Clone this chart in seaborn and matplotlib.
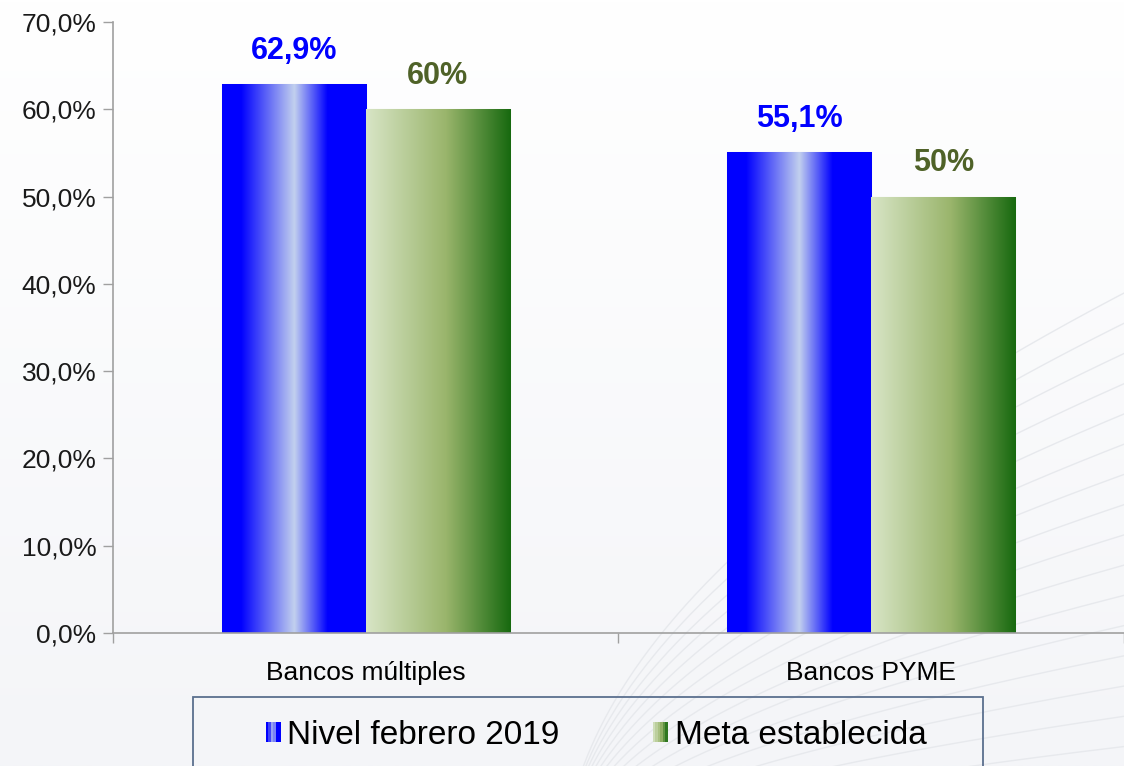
import numpy as np
import pandas as pd
import seaborn as sns
import matplotlib.pyplot as plt
from matplotlib.colors import LinearSegmentedColormap
from matplotlib.patches import Rectangle
from matplotlib.legend_handler import HandlerBase
from matplotlib.ticker import FuncFormatter

categories = ["Bancos múltiples", "Bancos PYME"]
nivel = [62.9, 55.1]
meta = [60, 50]
series = ["Nivel febrero 2019", "Meta establecida"]

df = pd.DataFrame({
    "cat": categories * 2,
    "serie": [series[0]] * 2 + [series[1]] * 2,
    "val": [v / 100 for v in nivel + meta],
})

blue_cm = LinearSegmentedColormap.from_list(
    "azul", [(0, "#0000FF"), (0.13, "#0000FF"), (0.5, "#C2D0EE"), (0.73, "#0000FF"), (1, "#0000FF")])
green_cm = LinearSegmentedColormap.from_list(
    "verde", [(0, "#D8E5C6"), (0.55, "#9AB56C"), (1, "#17690F")])

sns.set_theme(style="white")
plt.rcParams['font.family'] = ['Liberation Sans', 'DejaVu Sans']

fig = plt.figure(figsize=(11.24, 7.66), dpi=100)

# fondo degradado con lineas suaves
bg = fig.add_axes([0, 0, 1, 1], zorder=-10)
grad = np.linspace(0, 1, 256).reshape(-1, 1)
bg.imshow(grad, aspect="auto", extent=[0, 1, 0, 1],
          cmap=LinearSegmentedColormap.from_list("bg", ["#F4F5F8", "#FFFFFF"]), origin="lower")
t = np.linspace(0, 1, 200)
for k in range(16):
    bg.plot(0.5 + 0.65 * t, -0.15 + (0.2 + k * 0.045) * np.sqrt(t), color="#E7E9ED", lw=1.0)
bg.set_xlim(0, 1)
bg.set_ylim(0, 1)
bg.axis("off")

ax = fig.add_axes([0.1005, 0.1736, 0.8995, 0.7977])
ax.patch.set_alpha(0)
sns.barplot(data=df, x="cat", y="val", hue="serie", hue_order=series,
            width=0.57, gap=0, legend=False, ax=ax, saturation=1,
            palette=["#0000FF", "#9AB56C"])

gr = np.linspace(0, 1, 256).reshape(1, -1)
for i, p in enumerate(ax.patches):
    x0, w, h = p.get_x(), p.get_width(), p.get_height()
    cm = blue_cm if i < 2 else green_cm
    p.set_facecolor("none")
    p.set_edgecolor("#C9D3E6" if i < 2 else "#CFE0C4")
    p.set_linewidth(0.8)
    im = ax.imshow(gr, aspect="auto", cmap=cm, extent=[x0, x0 + w, 0, h], zorder=2)
    im.set_clip_path(p)

for i, v in enumerate(nivel):
    p = ax.patches[i]
    ax.text(p.get_x() + p.get_width() / 2, v / 100 + 0.021, f"{v:.1f}%".replace(".", ","),
            ha="center", va="bottom", fontsize=22, fontweight="bold", color="#0000FF")
for i, v in enumerate(meta):
    p = ax.patches[2 + i]
    ax.text(p.get_x() + p.get_width() / 2, v / 100 + 0.021, f"{v}%",
            ha="center", va="bottom", fontsize=22, fontweight="bold", color="#4F6228")

ax.set_xlim(-0.5, 1.5)
ax.set_ylim(0, 0.7)
ax.set_yticks(np.arange(0, 0.71, 0.1))
ax.yaxis.set_major_formatter(FuncFormatter(lambda y, _: f"{y * 100:.1f}%".replace(".", ",")))
ax.set_xticks([0, 1])
ax.set_xticklabels(categories)
ax.set_xticks([-0.5, 0.5, 1.5], minor=True)
ax.tick_params(axis="x", which="major", length=0, labelsize=19, pad=20, colors="#000000")
ax.tick_params(axis="x", which="minor", length=7, width=1, color="#A0A0A0", direction="out", bottom=True)
ax.tick_params(axis="y", length=7, width=1, color="#A0A0A0", direction="out", left=True,
               labelsize=19, pad=5, labelcolor="#1A1A1A")
ax.set_xlabel("")
ax.set_ylabel("")
for s in ["top", "right"]:
    ax.spines[s].set_visible(False)
for s in ["left", "bottom"]:
    ax.spines[s].set_color("#A0A0A0")
    ax.spines[s].set_linewidth(1.2)


class GradHandler(HandlerBase):
    def __init__(self, cmap):
        super().__init__()
        self.cmap = cmap

    def create_artists(self, legend, orig, xd, yd, width, height, fontsize, trans):
        arts = []
        n = 6
        sw = width / n
        for j in range(n):
            r = Rectangle((xd + j * sw, yd + 1), sw, height - 2,
                          facecolor=self.cmap((j + 0.5) / n), edgecolor="none", transform=trans)
            arts.append(r)
        return arts


h1 = Rectangle((0, 0), 1, 1)
h2 = Rectangle((0, 0), 1, 1)
fig.patches.append(Rectangle((193 / 1124, -0.05), (983 - 193) / 1124, 0.05 + (766 - 697) / 766,
                             transform=fig.transFigure, facecolor="none",
                             edgecolor="#5B6F8E", lw=1.3))
fig.legend([h1, h2], series, handler_map={h1: GradHandler(blue_cm), h2: GradHandler(green_cm)},
           loc="center", bbox_to_anchor=(596 / 1124, 1 - 735 / 766), ncol=2, frameon=False,
           fontsize=24, handlelength=0.45, handleheight=0.7, handletextpad=0.2, columnspacing=2.8,
           labelcolor="#000000")

fig.savefig("out.png", dpi=100)
